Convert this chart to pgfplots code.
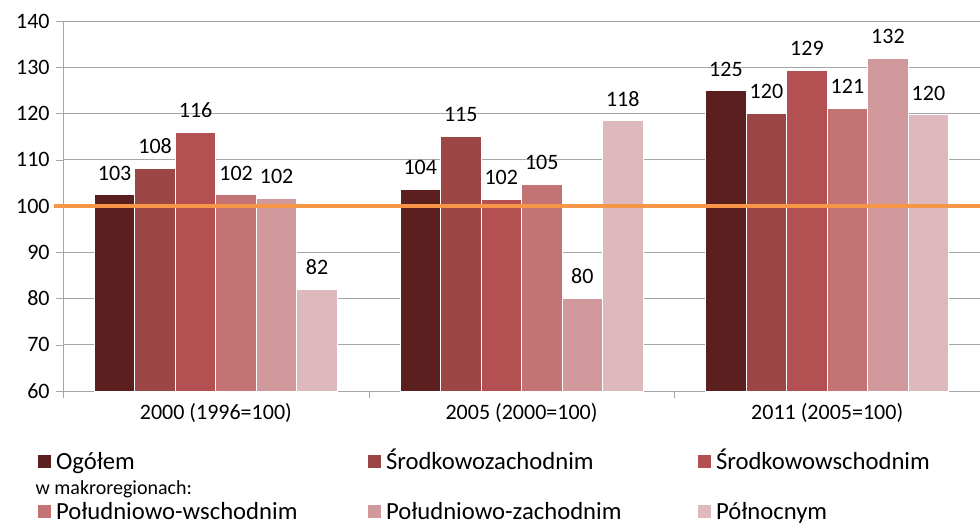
\documentclass[border=0pt]{standalone}
\usepackage{fontspec}
\setmainfont{Carlito}
\usepackage{pgfplots}
\usepackage{pgfplotstable}
\pgfplotsset{compat=1.18}

\definecolor{c1}{HTML}{5C1F1F}
\definecolor{c2}{HTML}{9C4545}
\definecolor{c3}{HTML}{B35152}
\definecolor{c4}{HTML}{C47374}
\definecolor{c5}{HTML}{D1999B}
\definecolor{c6}{HTML}{DDB8BC}
\definecolor{orng}{HTML}{F79646}
\definecolor{gridc}{HTML}{A6A6A6}

% x: 0 = 2000 (1996=100), 1 = 2005 (2000=100), 2 = 2011 (2005=100)
\pgfplotstableread{
x y lab
0 102.4 103
1 103.6 104
2 124.9 125
}\ogolem
\pgfplotstableread{
x y lab
0 108.2 108
1 115.1 115
2 120.0 120
}\srzach
\pgfplotstableread{
x y lab
0 115.9 116
1 101.5 102
2 129.3 129
}\srwsch
\pgfplotstableread{
x y lab
0 102.4 102
1 104.7 105
2 121.1 121
}\poludwsch
\pgfplotstableread{
x y lab
0 101.7 102
1 80.0 80
2 132.0 132
}\poludzach
\pgfplotstableread{
x y lab
0 82.0 82
1 118.4 118
2 119.7 120
}\polnoc

\begin{document}
\begin{tikzpicture}
\begin{axis}[
    scale only axis,
    width=687.75pt, height=277.5pt,
    xmin=-0.5, xmax=2.5,
    ymin=60, ymax=140,
    ytick={60,70,...,140},
    xtick={0,1,2},
    xticklabels={2000 (1996=100), 2005 (2000=100), 2011 (2005=100)},
    minor xtick={-0.5,0.5,1.5,2.5},
    axis lines=left,
    axis line style={-, draw=gridc},
    tick align=outside,
    major tick length=5pt,
    minor tick length=5.25pt,
    major x tick style={draw=none},
    tick style={draw=gridc},
    ymajorgrids,
    grid style={draw=gridc, line width=0.6pt},
    /pgf/number format/assume math mode=true,
    yticklabel style={font=\fontsize{16.5}{18}\selectfont, anchor=east, xshift=-1.5pt},
    xticklabel style={font=\fontsize{16.5}{18}\selectfont, anchor=base, yshift=-16pt},
    clip=false,
    ybar=0pt,
    bar width=30.375pt,
    nodes near coords,
    point meta=explicit symbolic,
    every node near coord/.append style={font=\fontsize{16.5}{18}\selectfont, anchor=base, yshift=11pt, inner sep=0pt, text=black},
    legend columns=3,
    legend image code/.code={\path[#1, draw=none] (0pt,1pt) rectangle (9.75pt,10.75pt);},
    legend style={draw=none, fill=none, inner sep=0pt, outer sep=0pt,
        at={(0,0)}, anchor=north west, xshift=-18.75pt, yshift=-45pt,
        column sep=0pt, row sep=0pt,
        nodes={anchor=base west, inner sep=0pt, text height=13.5pt, text depth=5.5pt,
               font=\fontsize{18.5}{20}\selectfont}},
]
\addplot[fill=c1, draw=white, line width=0.75pt] table[x=x, y=y, meta=lab] {\ogolem};
\addlegendentry{\makebox[237.75pt][l]{\hspace{3.75pt}Ogółem}}
\addplot[fill=c2, draw=white, line width=0.75pt] table[x=x, y=y, meta=lab] {\srzach};
\addlegendentry{\makebox[237.75pt][l]{\hspace{3.75pt}Środkowozachodnim}}
\addplot[fill=c3, draw=white, line width=0.75pt] table[x=x, y=y, meta=lab] {\srwsch};
\addlegendentry{\hspace{3.75pt}Środkowowschodnim}
\addlegendimage{empty legend}
\addlegendentry{\makebox[0pt][l]{\hspace*{-12pt}\fontsize{15}{17}\selectfont w makroregionach:}}
\addlegendimage{empty legend}
\addlegendentry{}
\addlegendimage{empty legend}
\addlegendentry{}
\addplot[fill=c4, draw=white, line width=0.75pt] table[x=x, y=y, meta=lab] {\poludwsch};
\addlegendentry{\makebox[237.75pt][l]{\hspace{3.75pt}Południowo-wschodnim}}
\addplot[fill=c5, draw=white, line width=0.75pt] table[x=x, y=y, meta=lab] {\poludzach};
\addlegendentry{\makebox[237.75pt][l]{\hspace{3.75pt}Południowo-zachodnim}}
\addplot[fill=c6, draw=white, line width=0.75pt] table[x=x, y=y, meta=lab] {\polnoc};
\addlegendentry{\hspace{3.75pt}Północnym}
% reference line at 100
\addplot[sharp plot, draw=orng, line width=3pt, forget plot, nodes near coords={}, mark=none]
    coordinates {(-0.53,100) (2.5,100)};
\end{axis}
\pgfresetboundingbox
\path (-47.25pt,-100.5pt) rectangle (687.75pt,293.25pt);
\end{tikzpicture}
\end{document}
